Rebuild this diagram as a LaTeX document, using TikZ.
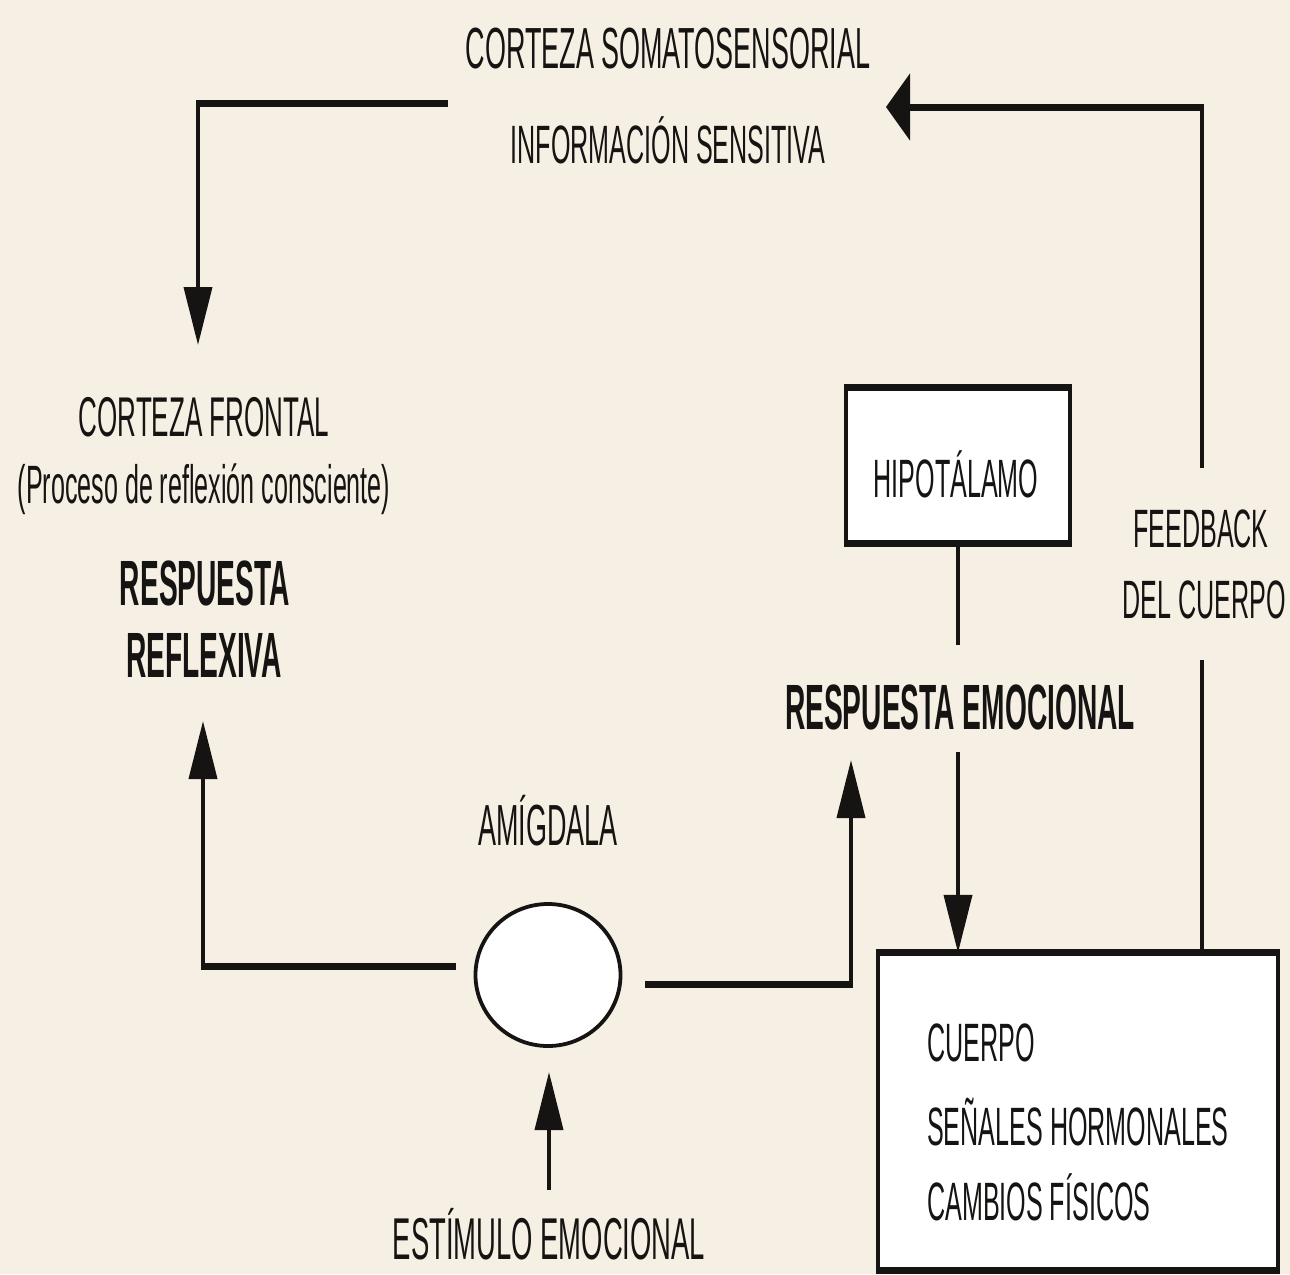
\documentclass[tikz,border=0pt]{standalone}
\usepackage{fontspec}
\setmainfont{Liberation Sans}[FakeStretch=0.465]
\newfontfamily\bldfont{Liberation Sans}[FakeStretch=0.44]
\usetikzlibrary{arrows.meta,shapes.geometric}
\definecolor{bgbeige}{RGB}{246,239,228}
\definecolor{ink}{RGB}{22,20,18}
\begin{document}
\begin{tikzpicture}[x=1pt,y=-1pt,
  lbl/.style={inner sep=0pt, anchor=base, text=ink, font=\fontsize{54}{60}\selectfont},
  lblw/.style={inner sep=0pt, anchor=base west, text=ink, font=\fontsize{54}{60}\selectfont},
  blbl/.style={inner sep=0pt, anchor=base, text=ink, font=\bldfont\bfseries\fontsize{64}{70}\selectfont},
  hline/.style={line width=7pt, draw=ink},
  vline/.style={line width=3.8pt, draw=ink},
  varrow/.style={-{Triangle[length=58pt,width=28pt]}},
  harrow/.style={-{Triangle[length=24pt,width=66pt]}},
  boxfill/.style={fill=white, draw=none, inner sep=0pt}
]
\fill[bgbeige] (0,0) rectangle (1290,1274);

% boxes and ellipse
\node[boxfill, minimum width=224pt, minimum height=155pt] (hipobox) at (958,465.5) {};
\draw[vline] (hipobox.north west) -- (hipobox.south west);
\draw[vline] (hipobox.north east) -- (hipobox.south east);
\draw[hline] ([xshift=-1.9pt]hipobox.north west) -- ([xshift=1.9pt]hipobox.north east);
\draw[hline] ([xshift=-1.9pt]hipobox.south west) -- ([xshift=1.9pt]hipobox.south east);

\node[boxfill, minimum width=400pt, minimum height=317pt] (cuerpobox) at (1078,1111.5) {};
\draw[vline] (cuerpobox.north west) -- (cuerpobox.south west);
\draw[vline] (cuerpobox.north east) -- (cuerpobox.south east);
\draw[hline] ([xshift=-1.9pt]cuerpobox.north west) -- ([xshift=1.9pt]cuerpobox.north east);
\draw[hline] ([xshift=-1.9pt]cuerpobox.south west) -- ([xshift=1.9pt]cuerpobox.south east);

\node[ellipse, draw=ink, fill=white, line width=3.8pt, minimum width=145pt, minimum height=142pt, inner sep=0pt] (amyg) at (548,975) {};

% texts
\node[lbl, font=\fontsize{58}{64}\selectfont] (somato) at (668,68) {CORTEZA SOMATOSENSORIAL};
\node[lbl] (info) at (668,163) {INFORMACIÓN SENSITIVA};
\node[lbl, font=\fontsize{56}{62}\selectfont] (frontal) at (204,436) {CORTEZA FRONTAL};
\node[lbl] (proceso) at (204,503) {(Proceso de reflexión consciente)};
\node[blbl] (resp1) at (205,605) {RESPUESTA};
\node[blbl] (resp2) at (204,677) {REFLEXIVA};
\node[lbl] (hipo) at (956,497) {HIPOTÁLAMO};
\node[lbl] (feed1) at (1201,547) {FEEDBACK};
\node[lbl] (feed2) at (1204,618) {DEL CUERPO};
\node[blbl] (respemo) at (960,729) {RESPUESTA EMOCIONAL};
\node[lbl, font=\fontsize{58}{64}\selectfont] (amigtxt) at (548,845) {AMÍGDALA};
\node[lbl, font=\fontsize{59}{65}\selectfont] (estim) at (549,1259) {ESTÍMULO EMOCIONAL};
\node[lblw] (cu1) at (927,1061) {CUERPO};
\node[lblw] (cu2) at (927,1145) {SEÑALES HORMONALES};
\node[lblw] (cu3) at (927,1220) {CAMBIOS FÍSICOS};

% connector coordinates
\coordinate (tlS) at (448,103);
\coordinate (tlC) at (198,103);
\coordinate (tlT) at (198,345);
\coordinate (fbA) at (1202,953);
\coordinate (fbB) at (1202,660);
\coordinate (fbC) at (1202,468);
\coordinate (trC) at (1202,107);
\coordinate (trT) at (886,107);
\coordinate (hyA) at (958,645);
\coordinate (hyB) at (958,752);
\coordinate (alS) at (456,966);
\coordinate (alC) at (203,966);
\coordinate (alT) at (203,721);
\coordinate (arS) at (645,984);
\coordinate (arC) at (851,984);
\coordinate (arT) at (851,760);
\coordinate (esS) at (549,1190);
\coordinate (esT) at (549,1072);

% somatosensory -> frontal
\draw[hline] (tlS) -- ([xshift=-1.9pt]tlC);
\draw[vline,varrow] ([yshift=3.5pt]tlC) -- (tlT);
% body feedback -> somatosensory
\draw[vline] (fbA) -- (fbB);
\draw[vline] (fbC) -- ([yshift=3.5pt]trC);
\draw[hline,harrow] ([xshift=1.9pt]trC) -- (trT);
% hypothalamus -> body
\draw[vline] (hipobox.south) -- (hyA);
\draw[vline,varrow] (hyB) -- (hyB |- cuerpobox.north);
% amygdala -> frontal
\draw[hline] (alS) -- ([xshift=-1.9pt]alC);
\draw[vline,varrow] ([yshift=3.5pt]alC) -- (alT);
% amygdala -> emotional response
\draw[hline] (arS) -- ([xshift=1.9pt]arC);
\draw[vline,varrow] ([yshift=3.5pt]arC) -- (arT);
% stimulus -> amygdala
\draw[vline,varrow] (esS) -- (esT);
\end{tikzpicture}
\end{document}
